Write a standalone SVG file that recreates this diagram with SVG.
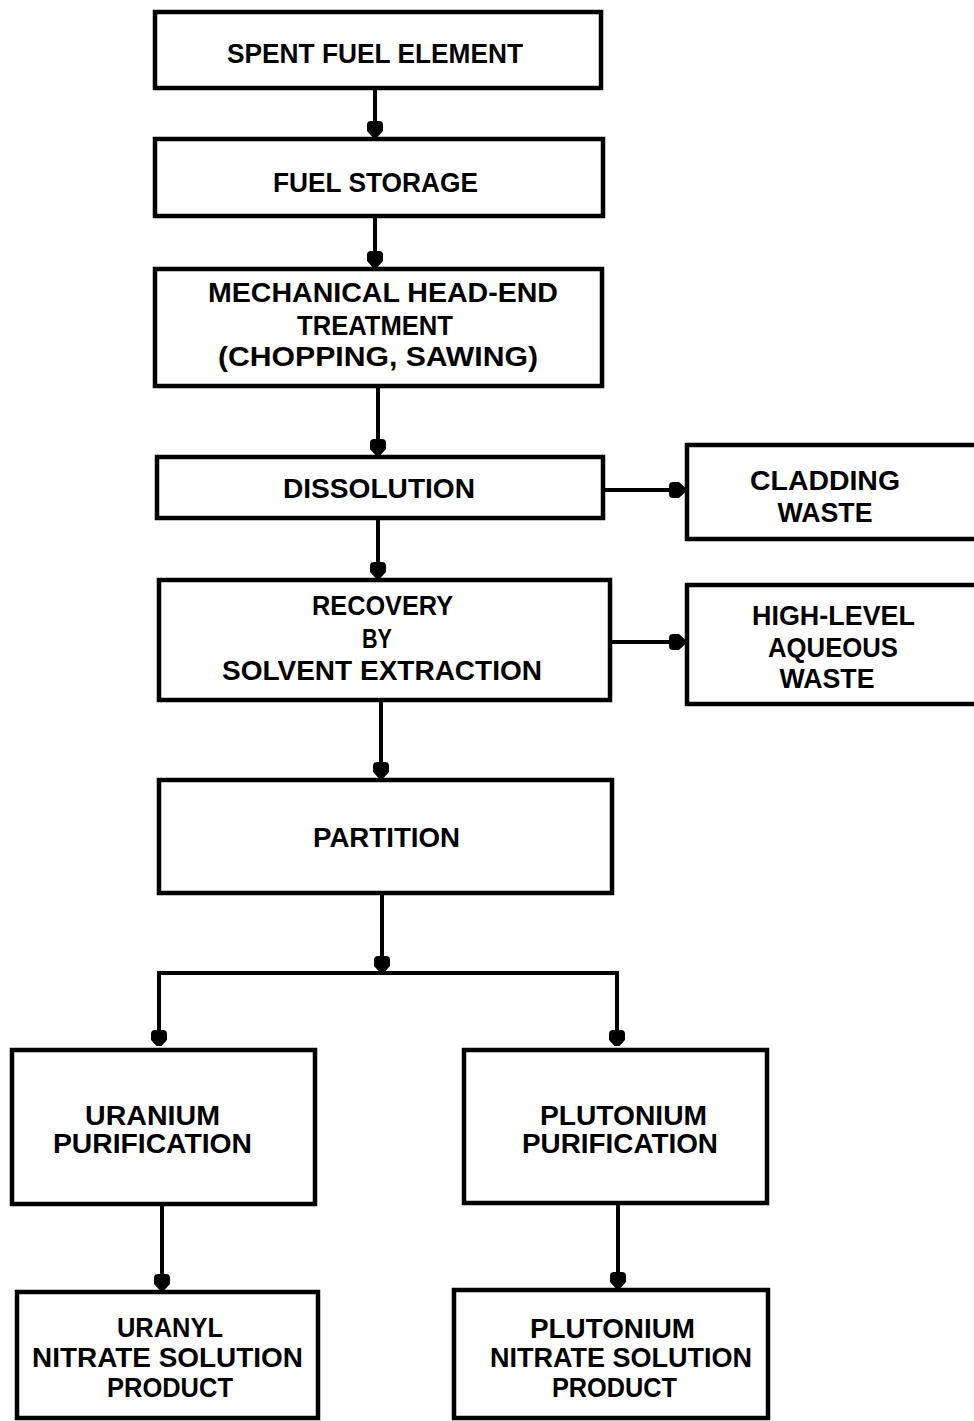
<svg xmlns="http://www.w3.org/2000/svg" width="974" height="1421" viewBox="0 0 974 1421">
<style>
.box{fill:#fff;stroke:#000;stroke-width:4.5}
.ln{fill:none;stroke:#000;stroke-width:4}
text{font-family:"Liberation Sans",Arial,sans-serif;font-weight:bold;font-size:27px;fill:#000;text-anchor:middle}
</style>
<defs>
<marker id="ah" markerUnits="userSpaceOnUse" markerWidth="30" markerHeight="30" refX="0" refY="0" orient="auto" viewBox="-20 -15 30 30" overflow="visible">
<path d="M0,-2.5 L0,2.5 L-6,8 L-12,8 Q-16,8 -16,4 L-16,-4 Q-16,-8 -12,-8 L-6,-8 Z" fill="#000"/>
</marker>
</defs>
<rect width="974" height="1421" fill="#fff"/>
<g id="connectors">
<line class="ln" x1="375" y1="90" x2="375" y2="137" marker-end="url(#ah)"/>
<line class="ln" x1="375" y1="218" x2="375" y2="267" marker-end="url(#ah)"/>
<line class="ln" x1="378" y1="388" x2="378" y2="455" marker-end="url(#ah)"/>
<line class="ln" x1="378" y1="520" x2="378" y2="578" marker-end="url(#ah)"/>
<line class="ln" x1="381" y1="702" x2="381" y2="778" marker-end="url(#ah)"/>
<line class="ln" x1="382" y1="895" x2="382" y2="972" marker-end="url(#ah)"/>
<polyline class="ln" points="159,1046 159,973 617,973 617,1046"/>
<line class="ln" x1="159" y1="1000" x2="159" y2="1046" marker-end="url(#ah)"/>
<line class="ln" x1="617" y1="1000" x2="617" y2="1046" marker-end="url(#ah)"/>
<line class="ln" x1="162" y1="1206" x2="162" y2="1290" marker-end="url(#ah)"/>
<line class="ln" x1="618" y1="1205" x2="618" y2="1288" marker-end="url(#ah)"/>
<line class="ln" x1="605" y1="490" x2="685" y2="490" marker-end="url(#ah)"/>
<line class="ln" x1="612" y1="642" x2="685" y2="642" marker-end="url(#ah)"/>
</g>
<g id="spent-fuel-element">
<rect class="box" x="155" y="12" width="446" height="76"/>
<text x="375" y="63" textLength="296" lengthAdjust="spacingAndGlyphs">SPENT FUEL ELEMENT</text>
</g>
<g id="fuel-storage">
<rect class="box" x="155" y="139" width="448" height="77"/>
<text x="375.5" y="192" textLength="205" lengthAdjust="spacingAndGlyphs">FUEL STORAGE</text>
</g>
<g id="mechanical-head-end">
<rect class="box" x="155" y="269" width="447" height="117"/>
<text x="383" y="302" textLength="350" lengthAdjust="spacingAndGlyphs">MECHANICAL HEAD-END</text>
<text x="375" y="335" textLength="156" lengthAdjust="spacingAndGlyphs">TREATMENT</text>
<text x="378" y="366" textLength="320" lengthAdjust="spacingAndGlyphs">(CHOPPING, SAWING)</text>
</g>
<g id="dissolution">
<rect class="box" x="157" y="457" width="446" height="61"/>
<text x="379" y="498" textLength="192" lengthAdjust="spacingAndGlyphs">DISSOLUTION</text>
</g>
<g id="cladding-waste">
<rect class="box" x="687" y="445" width="300" height="94"/>
<text x="825" y="490" textLength="150" lengthAdjust="spacingAndGlyphs">CLADDING</text>
<text x="825" y="522" textLength="95" lengthAdjust="spacingAndGlyphs">WASTE</text>
</g>
<g id="recovery">
<rect class="box" x="159" y="580" width="451" height="120"/>
<text x="382.5" y="615" textLength="141" lengthAdjust="spacingAndGlyphs">RECOVERY</text>
<text x="377" y="648" textLength="30" lengthAdjust="spacingAndGlyphs">BY</text>
<text x="382" y="680" textLength="320" lengthAdjust="spacingAndGlyphs">SOLVENT EXTRACTION</text>
</g>
<g id="high-level-waste">
<rect class="box" x="687" y="585" width="300" height="119"/>
<text x="833.5" y="625" textLength="163" lengthAdjust="spacingAndGlyphs">HIGH-LEVEL</text>
<text x="833" y="657" textLength="130" lengthAdjust="spacingAndGlyphs">AQUEOUS</text>
<text x="827" y="688" textLength="95" lengthAdjust="spacingAndGlyphs">WASTE</text>
</g>
<g id="partition">
<rect class="box" x="159" y="780" width="453" height="113"/>
<text x="386.5" y="847" textLength="147" lengthAdjust="spacingAndGlyphs">PARTITION</text>
</g>
<g id="uranium-purification">
<rect class="box" x="12" y="1050" width="303" height="154"/>
<text x="152.5" y="1125" textLength="135" lengthAdjust="spacingAndGlyphs">URANIUM</text>
<text x="152.5" y="1153" textLength="199" lengthAdjust="spacingAndGlyphs">PURIFICATION</text>
</g>
<g id="plutonium-purification">
<rect class="box" x="464" y="1050" width="303" height="153"/>
<text x="623.5" y="1125" textLength="167" lengthAdjust="spacingAndGlyphs">PLUTONIUM</text>
<text x="620" y="1153" textLength="196" lengthAdjust="spacingAndGlyphs">PURIFICATION</text>
</g>
<g id="uranyl-nitrate-product">
<rect class="box" x="17" y="1292" width="301" height="126"/>
<text x="170" y="1337" textLength="106" lengthAdjust="spacingAndGlyphs">URANYL</text>
<text x="167.5" y="1367" textLength="271" lengthAdjust="spacingAndGlyphs">NITRATE SOLUTION</text>
<text x="170" y="1397" textLength="126" lengthAdjust="spacingAndGlyphs">PRODUCT</text>
</g>
<g id="plutonium-nitrate-product">
<rect class="box" x="454" y="1290" width="314" height="128"/>
<text x="612.5" y="1338" textLength="165" lengthAdjust="spacingAndGlyphs">PLUTONIUM</text>
<text x="621" y="1367" textLength="262" lengthAdjust="spacingAndGlyphs">NITRATE SOLUTION</text>
<text x="614.5" y="1397" textLength="125" lengthAdjust="spacingAndGlyphs">PRODUCT</text>
</g>
</svg>
